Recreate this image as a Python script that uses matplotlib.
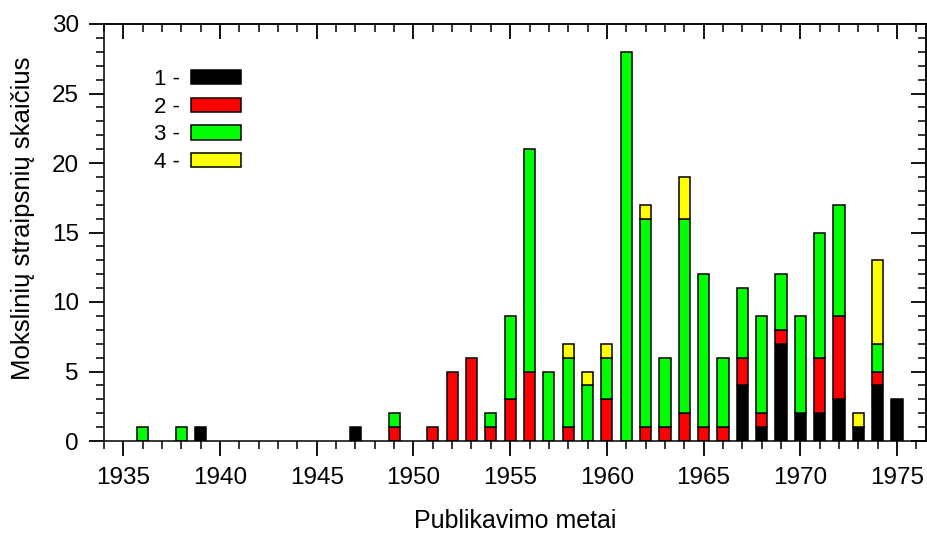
import matplotlib
matplotlib.use("Agg")
import matplotlib.pyplot as plt
from matplotlib.ticker import MultipleLocator

plt.rcParams.update({
    "font.family": ["Liberation Sans", "DejaVu Sans"],
    "font.size": 17.5,
    "axes.linewidth": 1.1,
})

# data
years = [1936, 1938, 1939, 1947, 1949, 1951, 1952, 1953, 1954, 1955,
         1956, 1957, 1958, 1959, 1960, 1961, 1962, 1963, 1964, 1965,
         1966, 1967, 1968, 1969, 1970, 1971, 1972, 1973, 1974, 1975]
cat1 = [0, 0, 1, 1, 0, 0, 0, 0, 0, 0, 0, 0, 0, 0, 0,
        0, 0, 0, 0, 0, 0, 4, 1, 7, 2, 2, 3, 1, 4, 3]
cat2 = [0, 0, 0, 0, 1, 1, 5, 6, 1, 3, 5, 0, 1, 0, 3,
        0, 1, 1, 2, 1, 1, 2, 1, 1, 0, 4, 6, 0, 1, 0]
cat3 = [1, 1, 0, 0, 1, 0, 0, 0, 1, 6, 16, 5, 5, 4, 3,
        28, 15, 5, 14, 11, 5, 5, 7, 4, 7, 9, 8, 0, 2, 0]
cat4 = [0, 0, 0, 0, 0, 0, 0, 0, 0, 0, 0, 0, 1, 1, 1,
        0, 1, 0, 3, 0, 0, 0, 0, 0, 0, 0, 0, 1, 6, 0]

series = [cat1, cat2, cat3, cat4]
labels = ["1 -", "2 -", "3 -", "4 -"]
colors = ["#000000", "#ff0000", "#00ff00", "#ffff00"]

fig = plt.figure(figsize=(9.27, 5.34), dpi=100)
ax = fig.add_axes([104 / 927, 1 - 441 / 534, 822 / 927, 417 / 534])

bottom = [0] * len(years)
for vals, lab, col in zip(series, labels, colors):
    xs = [y for y, v in zip(years, vals) if v > 0]
    hs = [v for v in vals if v > 0]
    bs = [b for b, v in zip(bottom, vals) if v > 0]
    ax.bar(xs, hs, bottom=bs, width=0.58, color=col,
           edgecolor="black", linewidth=1.1, label=lab)
    bottom = [b + v for b, v in zip(bottom, vals)]

ax.set_xlim(1934, 1976.5)
ax.set_ylim(0, 30)

ax.xaxis.set_major_locator(MultipleLocator(5))
ax.xaxis.set_minor_locator(MultipleLocator(1))
ax.yaxis.set_major_locator(MultipleLocator(5))
ax.yaxis.set_minor_locator(MultipleLocator(1))
ax.set_xticks(range(1935, 1976, 5))

ax.tick_params(which="major", direction="out", length=11, width=1.3)
ax.tick_params(which="minor", direction="out", length=6, width=1.1)
ax.tick_params(axis="x", pad=8)
ax.tick_params(axis="y", pad=7)

# top and right sides get inward ticks
top = ax.secondary_xaxis("top")
top.xaxis.set_major_locator(MultipleLocator(5))
top.xaxis.set_minor_locator(MultipleLocator(1))
top.tick_params(which="major", direction="in", length=11, width=1.3, labeltop=False)
top.tick_params(which="minor", direction="in", length=6, width=1.1)

right = ax.secondary_yaxis("right")
right.yaxis.set_major_locator(MultipleLocator(5))
right.yaxis.set_minor_locator(MultipleLocator(1))
right.tick_params(which="major", direction="in", length=11, width=1.3, labelright=False)
right.tick_params(which="minor", direction="in", length=6, width=1.1)

ax.set_xlabel("Publikavimo metai", fontsize=18, labelpad=14)
ax.set_ylabel("Mokslinių straipsnių skaičius", fontsize=18.5, labelpad=12, y=0.534)

ax.legend(loc="upper left", bbox_to_anchor=((154 - 104) / 822, (441 - 69) / 417),
          frameon=False, markerfirst=False, fontsize=16, borderpad=0,
          borderaxespad=0, handlelength=2.25, handleheight=0.63,
          labelspacing=0.3, handletextpad=0.5)

fig.savefig("out.png", dpi=100)
